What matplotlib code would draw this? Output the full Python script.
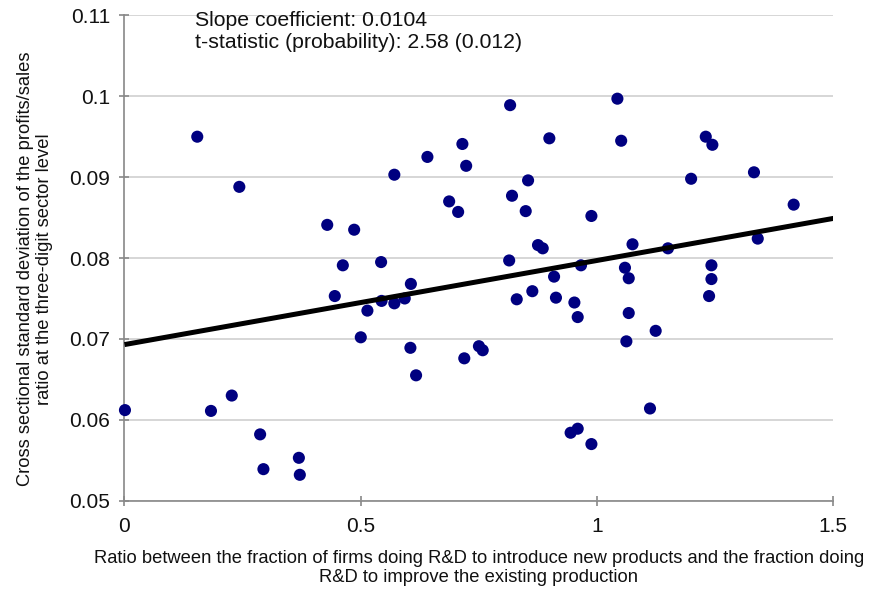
import numpy as np
import matplotlib
matplotlib.use("Agg")
import matplotlib.pyplot as plt

plt.rcParams['font.family'] = ['Liberation Sans', 'DejaVu Sans']

# ratio R&D new products / R&D existing production
ratio = [0.154, 0.243, 0.429, 0.486, 0.571, 0.641, 0.715, 0.723, 0.687, 0.706,
         0.816, 1.043, 0.899, 1.051, 1.230, 1.244, 0.854, 0.820, 0.849, 1.199,
         1.332, 1.416, 0.988, 0.875, 0.885, 1.075, 1.150, 1.340, 0.814,
         0.462, 0.543, 0.445, 0.606, 0.544, 0.571, 0.593, 0.514, 0.500, 0.605,
         0.617, 0.719, 0.750, 0.758, 0.001, 0.183, 0.227, 0.287, 0.294, 0.369,
         0.371,
         0.966, 1.059, 1.067, 1.242, 1.242, 1.237, 0.909, 0.863, 0.830, 0.913,
         0.952, 0.959, 1.067, 1.124, 1.062, 1.112, 0.944, 0.959, 0.988]
# cross sectional std dev of profits/sales ratio
std_ps = [0.0950, 0.0888, 0.0841, 0.0835, 0.0903, 0.0925, 0.0941, 0.0914, 0.0870, 0.0857,
          0.0989, 0.0997, 0.0948, 0.0945, 0.0950, 0.0940, 0.0896, 0.0877, 0.0858, 0.0898,
          0.0906, 0.0866, 0.0852, 0.0816, 0.0812, 0.0817, 0.0812, 0.0824, 0.0797,
          0.0791, 0.0795, 0.0753, 0.0768, 0.0747, 0.0744, 0.0750, 0.0735, 0.0702, 0.0689,
          0.0655, 0.0676, 0.0691, 0.0686, 0.0612, 0.0611, 0.0630, 0.0582, 0.0539, 0.0553,
          0.0532,
          0.0791, 0.0788, 0.0775, 0.0791, 0.0774, 0.0753, 0.0777, 0.0759, 0.0749, 0.0751,
          0.0745, 0.0727, 0.0732, 0.0710, 0.0697, 0.0614, 0.0584, 0.0589, 0.0570]

intercept = 0.0693
slope = 0.0104

fig = plt.figure(figsize=(8.73, 5.91), dpi=100)
ax = fig.add_axes([0.1426, 0.1528, 0.812, 0.8212])

ax.set_xlim(0, 1.5)
ax.set_ylim(0.05, 0.11)
ax.set_xticks([0, 0.5, 1, 1.5])
ax.set_xticklabels(['0', '0.5', '1', '1.5'])
ax.set_yticks([0.05, 0.06, 0.07, 0.08, 0.09, 0.1, 0.11])
ax.set_yticklabels(['0.05', '0.06', '0.07', '0.08', '0.09', '0.1', '0.11'])
ax.yaxis.grid(True, color='#cccccc', lw=1.1)
ax.set_axisbelow(True)
for s in ['top', 'right']:
    ax.spines[s].set_visible(False)
for s in ['left', 'bottom']:
    ax.spines[s].set_color('#888888')
    ax.spines[s].set_linewidth(1.2)
ax.tick_params(direction='inout', length=7, width=1.2, color='#888888',
               labelsize=15, labelcolor='#111111')
ax.tick_params(axis='y', pad=7)
ax.tick_params(axis='x', pad=8)

ax.scatter(ratio, std_ps, s=76, color='#000080', edgecolors='none', zorder=3,
           clip_on=False)

xx = np.array([0, 1.5])
ax.plot(xx, intercept + slope * xx, color='black', lw=3.6, zorder=4,
        solid_capstyle='butt')

ax.text(0.149, 0.1106, 'Slope coefficient: 0.0104\nt-statistic (probability): 2.58 (0.012)',
        fontsize=15.3, va='top', ha='left', linespacing=1.25, color='#111111')

ax.set_xlabel('Ratio between the fraction of firms doing R&D to introduce new products and the fraction doing\n'
              'R&D to improve the existing production', fontsize=13.2, labelpad=10,
              linespacing=1.15, color='#111111')
ax.set_ylabel('Cross sectional standard deviation of the profits/sales\n'
              'ratio at the three-digit sector level', fontsize=13.2,
              linespacing=1.15, color='#111111')
ax.yaxis.set_label_coords(-0.101, 0.477)

fig.savefig('out.png', dpi=100)
